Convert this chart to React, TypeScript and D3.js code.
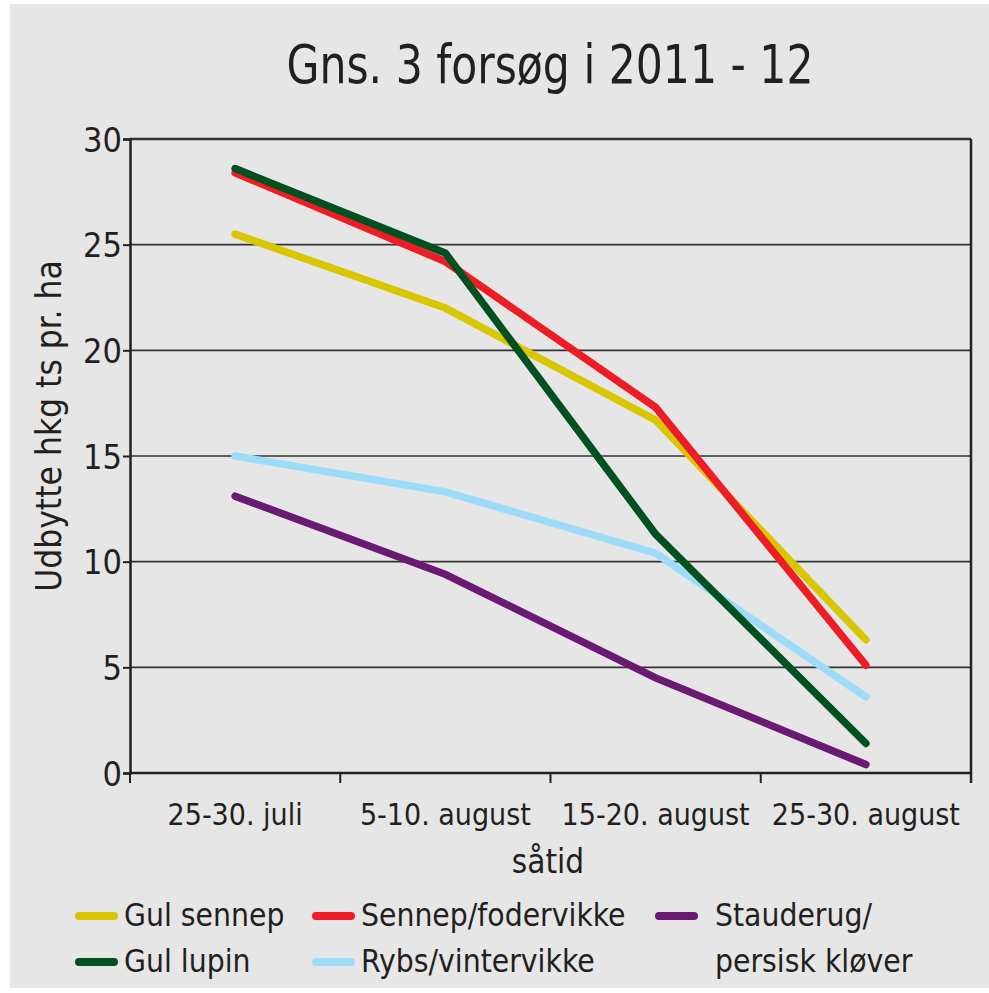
import React, { useEffect, useRef } from 'react';
import * as d3 from 'd3';

const width = 989;
const height = 993;
const margin = { top: 139, right: 18, bottom: 220, left: 130 };
const font = '"DejaVu Sans Condensed", "Roboto", sans-serif';

const categories = ['25-30. juli', '5-10. august', '15-20. august', '25-30. august'];
const yTicks = [0, 5, 10, 15, 20, 25, 30];

const gulSennep = [25.5, 22.0, 16.7, 6.3];
const sennepFodervikke = [28.4, 24.2, 17.3, 5.1];
const gulLupin = [28.6, 24.6, 11.3, 1.4];
const rybsVintervikke = [15.0, 13.3, 10.4, 3.6];
const stauderug = [13.1, 9.4, 4.5, 0.4];

const series = [
  { name: ['Gul sennep'], values: gulSennep, color: '#d8c700', col: 0, row: 0 },
  { name: ['Sennep/fodervikke'], values: sennepFodervikke, color: '#ee1d25', col: 1, row: 0 },
  { name: ['Stauderug/', 'persisk kløver'], values: stauderug, color: '#6b1a73', col: 2, row: 0 },
  { name: ['Gul lupin'], values: gulLupin, color: '#00511f', col: 0, row: 1 },
  { name: ['Rybs/vintervikke'], values: rybsVintervikke, color: '#9ddcf8', col: 1, row: 1 }
];
// draw order: bottom first
const drawOrder = [4, 2, 0, 1, 3];

export default function App() {
  const ref = useRef<SVGSVGElement>(null);

  useEffect(() => {
    const svg = d3.select(ref.current);
    svg.selectAll('*').remove();

    const x = d3
      .scaleBand()
      .domain(categories)
      .range([margin.left, width - margin.right]);
    const y = d3
      .scaleLinear()
      .domain([0, 30])
      .range([height - margin.bottom, margin.top]);

    svg.append('rect').attr('x', 10).attr('y', 4).attr('width', 979).attr('height', 984).attr('fill', '#e6e6e6');

    // gridlines
    svg
      .append('g')
      .selectAll('line')
      .data(yTicks.filter(d => d > 0))
      .join('line')
      .attr('x1', margin.left)
      .attr('x2', width - margin.right)
      .attr('y1', d => y(d))
      .attr('y2', d => y(d))
      .attr('stroke', '#333')
      .attr('stroke-width', d => (d === 30 ? 2.5 : 1.6));

    // y axis
    const yAxis = svg
      .append('g')
      .attr('transform', `translate(${margin.left},0)`)
      .call(d3.axisLeft(y).tickValues(yTicks).tickSize(7).tickPadding(1));
    yAxis.select('.domain').attr('stroke', '#222').attr('stroke-width', 2.5);
    yAxis.selectAll('.tick line').attr('stroke', '#222').attr('stroke-width', 2);
    yAxis
      .selectAll('.tick text')
      .attr('font-family', font)
      .attr('font-size', 34)
      .attr('fill', '#231f20')
      .attr('dy', '0.36em');

    // x axis
    const xAxis = svg
      .append('g')
      .attr('transform', `translate(0,${height - margin.bottom})`)
      .call(d3.axisBottom(x).tickSize(0).tickPadding(0));
    xAxis.select('.domain').remove();
    xAxis
      .selectAll('.tick text')
      .attr('font-family', font)
      .attr('font-size', 30)
      .attr('fill', '#231f20')
      .attr('dy', 0)
      .attr('y', 52);
    svg
      .append('line')
      .attr('x1', margin.left)
      .attr('x2', width - margin.right)
      .attr('y1', y(0))
      .attr('y2', y(0))
      .attr('stroke', '#222')
      .attr('stroke-width', 2.5);
    const bounds = [...categories.map(c => x(c) as number), width - margin.right];
    svg
      .append('g')
      .selectAll('line')
      .data(bounds)
      .join('line')
      .attr('x1', d => d)
      .attr('x2', d => d)
      .attr('y1', d => (d === width - margin.right ? margin.top : y(0)))
      .attr('y2', y(0) + 10)
      .attr('stroke', '#222')
      .attr('stroke-width', d => (d === width - margin.right ? 2.5 : 2));

    // lines
    const line = d3
      .line<number>()
      .x((d, i) => (x(categories[i]) as number) + x.bandwidth() / 2)
      .y(d => y(d));
    svg
      .append('g')
      .selectAll('path')
      .data(drawOrder.map(i => series[i]))
      .join('path')
      .attr('d', d => line(d.values))
      .attr('fill', 'none')
      .attr('stroke', d => d.color)
      .attr('stroke-width', 7.5)
      .attr('stroke-linecap', 'round')
      .attr('stroke-linejoin', 'miter');

    // title
    svg
      .append('text')
      .attr('x', 550)
      .attr('y', 83)
      .attr('text-anchor', 'middle')
      .attr('font-family', font)
      .attr('font-size', 54)
      .attr('textLength', 527)
      .attr('lengthAdjust', 'spacingAndGlyphs')
      .attr('fill', '#231f20')
      .text('Gns. 3 forsøg i 2011 - 12');

    // axis titles
    svg
      .append('text')
      .attr('x', 548)
      .attr('y', 873)
      .attr('text-anchor', 'middle')
      .attr('font-family', font)
      .attr('font-size', 33)
      .attr('fill', '#231f20')
      .text('såtid');
    svg
      .append('text')
      .attr('transform', `translate(61,426) rotate(-90)`)
      .attr('text-anchor', 'middle')
      .attr('font-family', font)
      .attr('font-size', 35)
      .attr('fill', '#231f20')
      .text('Udbytte hkg ts pr. ha');

    // legend
    const colX = [75, 312, 655];
    const textX = [124, 361, 715];
    const rowY = [916, 962];
    const lg = svg.append('g');
    series.forEach(s => {
      lg.append('line')
        .attr('x1', colX[s.col] + 4)
        .attr('x2', colX[s.col] + 39)
        .attr('y1', rowY[s.row])
        .attr('y2', rowY[s.row])
        .attr('stroke', s.color)
        .attr('stroke-width', 8)
        .attr('stroke-linecap', 'round');
      s.name.forEach((n, k) => {
        lg.append('text')
          .attr('x', textX[s.col])
          .attr('y', rowY[s.row] + k * 46 + 10)
          .attr('font-family', font)
          .attr('font-size', 31.5)
          .attr('fill', '#231f20')
          .text(n);
      });
    });
  }, []);

  return (
    <svg
      ref={ref}
      width={width}
      height={height}
      style={{ display: 'block', position: 'absolute', left: 0, top: 0 }}
    />
  );
}
